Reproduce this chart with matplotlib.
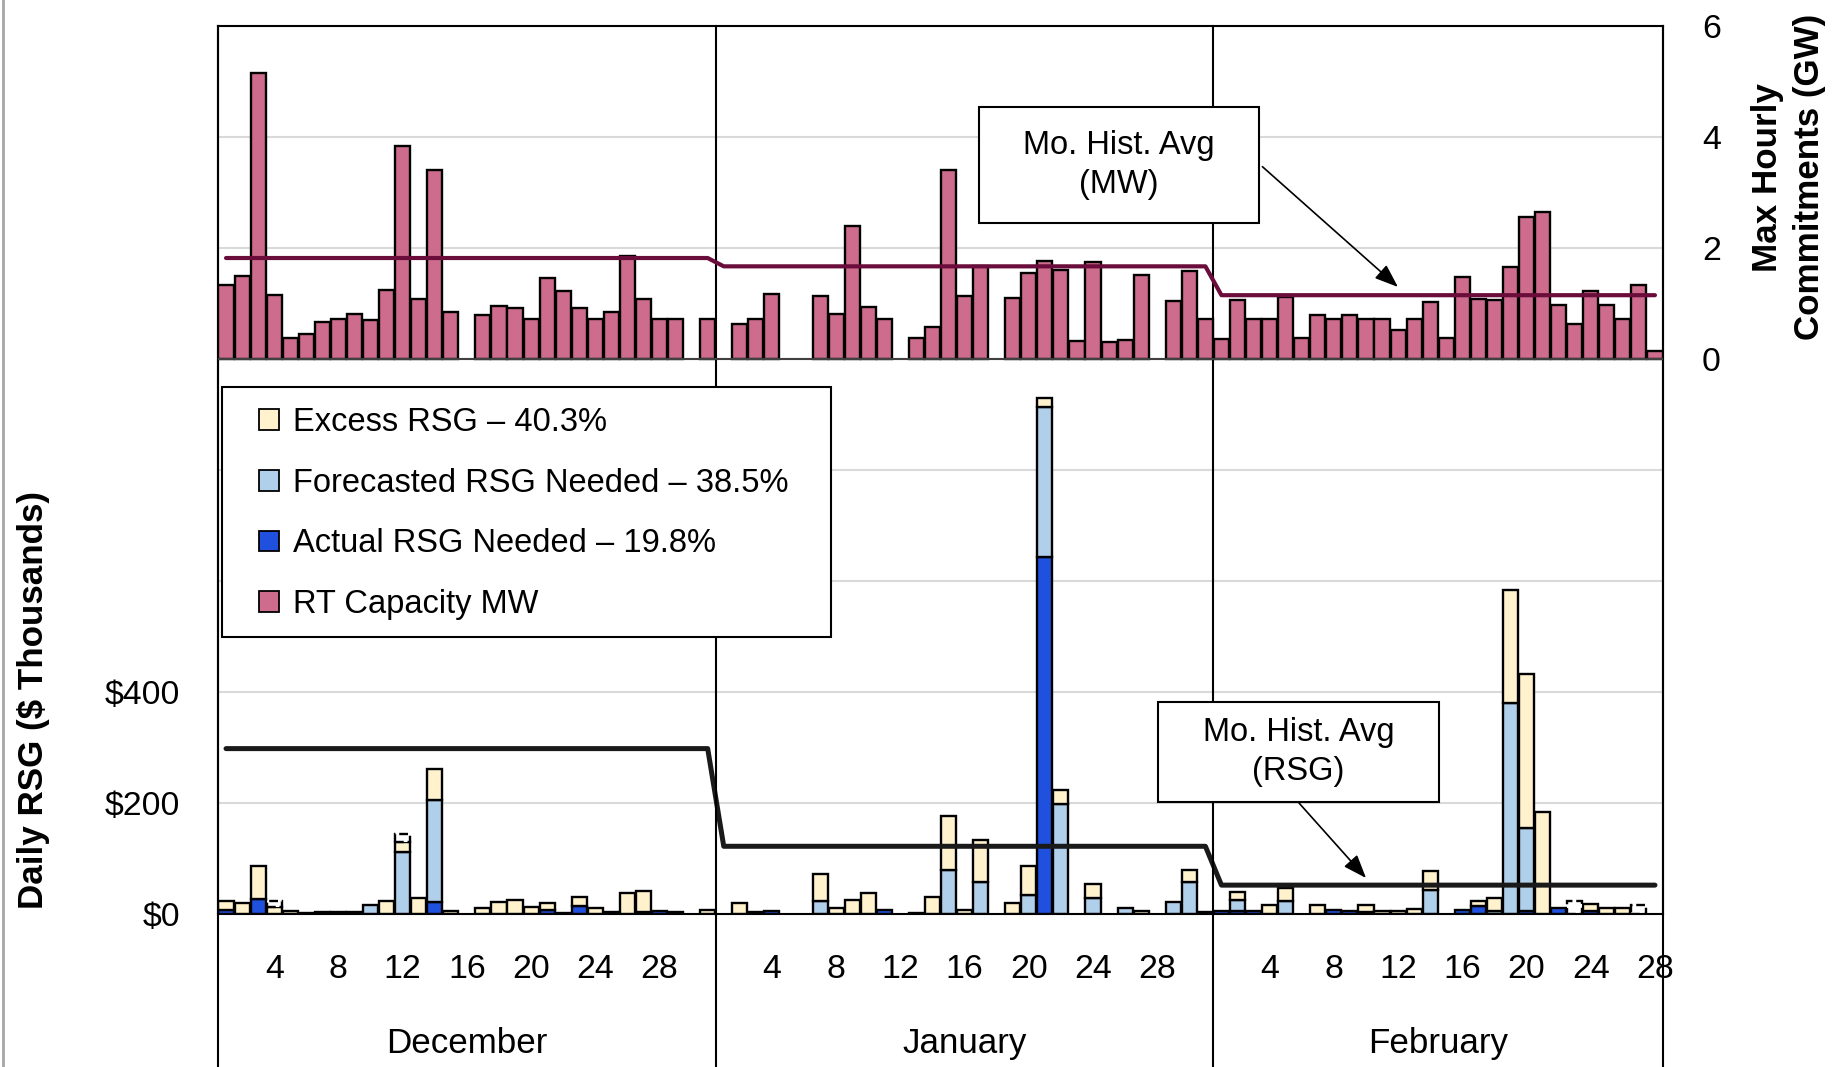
import numpy as np
import matplotlib.pyplot as plt
from matplotlib import font_manager
from matplotlib.lines import Line2D
from matplotlib.patches import Patch, Rectangle

# ---- data (one list per month, day 1 first) ----
MONTHS = ['December', 'January', 'February']

# max hourly RT capacity commitments, GW (None = nothing committed)
rt_capacity_dec = [1.34, 1.49, 5.15, 1.16, 0.37, 0.45, 0.66, 0.72, 0.81, 0.71,
                   1.25, 3.84, 1.09, 3.40, 0.84, None, 0.80, 0.95, 0.92, 0.73,
                   1.46, 1.22, 0.92, 0.73, 0.84, 1.85, 1.08, 0.73, 0.73, None, 0.73]
rt_capacity_jan = [None, 0.63, 0.73, 1.17, None, None, 1.14, 0.81, 2.39, 0.94,
                   0.72, None, 0.37, 0.58, 3.41, 1.14, 1.68, None, 1.10, 1.55,
                   1.76, 1.60, 0.33, 1.75, 0.30, 0.35, 1.52, None, 1.05, 1.58, 0.73]
rt_capacity_feb = [0.36, 1.07, 0.72, 0.72, 1.12, 0.37, 0.80, 0.72, 0.80, 0.73,
                   0.73, 0.52, 0.72, 1.03, 0.37, 1.48, 1.08, 1.07, 1.65, 2.56,
                   2.65, 0.98, 0.63, 1.22, 0.98, 0.73, 1.34, 0.14]

# daily RSG, $ thousands
actual_dec = [7, 0, 27, 0, 0, 2, 3, 3, 4, 0, 0, 0, 0, 21, 0, 0, 0, 0, 0, 0,
              8, 2, 14, 0, 0, 0, 0, 6, 4, 0, 0]
forecast_dec = [0, 0, 0, 0, 0, 0, 0, 0, 0, 17, 0, 111, 0, 184, 0, 0, 0, 0, 0, 0,
                0, 0, 0, 0, 0, 0, 3, 0, 0, 0, 0]
excess_dec = [17, 19, 60, 12, 5, 0, 0, 0, 0, 0, 23, 18, 29, 56, 6, 0, 10, 22, 26, 13,
              12, 0, 16, 10, 4, 38, 38, 0, 0, 0, 8]
other_dec = [0, 0, 0, 11, 0, 0, 0, 0, 0, 0, 0, 15, 0, 0, 0, 0, 0, 0, 0, 0,
             0, 0, 0, 0, 0, 0, 0, 0, 0, 0, 0]

actual_jan = [0, 0, 0, 5, 0, 0, 0, 0, 0, 0, 7, 0, 1, 0, 0, 0, 0, 0, 0, 0,
              644, 0, 0, 0, 0, 0, 0, 0, 0, 0, 3]
forecast_jan = [0, 0, 0, 0, 0, 0, 24, 0, 0, 0, 0, 0, 0, 0, 79, 0, 58, 0, 0, 35,
                269, 199, 0, 28, 0, 10, 0, 0, 22, 57, 0]
excess_jan = [0, 19, 3, 0, 0, 0, 48, 10, 26, 38, 0, 0, 0, 30, 98, 8, 75, 0, 19, 52,
              17, 24, 0, 26, 0, 0, 5, 0, 0, 23, 0]
other_jan = [0] * 31

actual_feb = [5, 6, 5, 0, 0, 0, 0, 8, 6, 3, 0, 0, 0, 0, 0, 8, 14, 0, 0, 6,
              0, 10, 0, 6, 0, 0, 0, 0]
forecast_feb = [0, 20, 0, 0, 23, 0, 0, 0, 0, 0, 0, 0, 0, 44, 0, 0, 0, 6, 381, 149,
                0, 0, 0, 0, 0, 0, 0, 0]
excess_feb = [0, 13, 0, 16, 24, 0, 16, 0, 0, 14, 5, 6, 9, 34, 0, 0, 9, 23, 202, 278,
              183, 0, 0, 12, 11, 11, 0, 0]
other_feb = [0, 0, 0, 0, 0, 0, 0, 0, 0, 0, 0, 0, 0, 0, 0, 0, 0, 0, 0, 0,
             0, 0, 23, 0, 0, 0, 17, 0]

mw_hist_avg = [1.82, 1.67, 1.15]     # GW
rsg_hist_avg = [298, 122, 52]        # $ thousands

legend_labels = ['Excess RSG – 40.3%', 'Forecasted RSG Needed – 38.5%',
                 'Actual RSG Needed – 19.8%', 'RT Capacity MW']
day_ticks = [4, 8, 12, 16, 20, 24, 28]
rsg_tick_labels = ['$0', '$200', '$400']
gw_ticks = [0, 2, 4, 6]

# colours
PINK = '#CE6C8E'
CREAM = '#FFF2CC'
LIGHT_BLUE = '#B0CFEA'
BLUE = '#1F51DE'
MAROON = '#6A0D3A'
GRID = '#D9D9D9'

installed = {f.name for f in font_manager.fontManager.ttflist}
if 'Liberation Sans Narrow' in installed:
    FONT, SHRINK = 'Liberation Sans Narrow', 1.0
else:
    FONT, SHRINK = 'Liberation Sans', 0.84
plt.rcParams['font.family'] = [FONT, 'DejaVu Sans']


def fs(pt):
    return pt * SHRINK


rt_capacity = np.array(rt_capacity_dec + rt_capacity_jan + rt_capacity_feb, dtype=float)
actual = np.array(actual_dec + actual_jan + actual_feb, dtype=float)
forecast = np.array(forecast_dec + forecast_jan + forecast_feb, dtype=float)
excess = np.array(excess_dec + excess_jan + excess_feb, dtype=float)
other = np.array(other_dec + other_jan + other_feb, dtype=float)

n_days = [len(rt_capacity_dec), len(rt_capacity_jan), len(rt_capacity_feb)]
starts = np.concatenate([[0], np.cumsum(n_days)[:-1]])
x = np.arange(len(rt_capacity))

fig = plt.figure(figsize=(18.49, 10.67), dpi=100)
ax = fig.add_axes([0.1179, 0.1434, 0.7815, 0.8322])
ax2 = ax.twinx()

BAR_W = 0.94
EDGE_W = 1.7

# stacked RSG bars
bottom = np.zeros_like(actual)
for vals, color, ls in [(actual, BLUE, '-'), (forecast, LIGHT_BLUE, '-'),
                        (excess, CREAM, '-'), (other, 'white', '--')]:
    m = vals > 0
    ax.bar(x[m], vals[m], bottom=bottom[m], width=BAR_W, color=color,
           edgecolor='black', linewidth=EDGE_W, linestyle=ls, zorder=2)
    bottom += vals

# RT capacity bars
m = ~np.isnan(rt_capacity)
ax2.bar(x[m], rt_capacity[m], width=BAR_W, color=PINK, edgecolor='black',
        linewidth=EDGE_W, zorder=2)
ax2.axhline(0, color='#404040', lw=1.5, zorder=2.5)

# monthly historical averages
xs, mw_line, rsg_line = [], [], []
for s, n, mw, rsg in zip(starts, n_days, mw_hist_avg, rsg_hist_avg):
    xs += [s, s + n - 1]
    mw_line += [mw, mw]
    rsg_line += [rsg, rsg]
ax.plot(xs, rsg_line, color='#1A1A1A', lw=3.6, zorder=3, solid_capstyle='round')
ax2.plot(xs, mw_line, color=MAROON, lw=3.0, zorder=3, solid_capstyle='round')

# axes and scales
ax.set_xlim(-0.5, len(x) - 0.5)
ax.set_ylim(0, 1600)
ax2.set_ylim(-10, 6)
ax.set_yticks(np.arange(0, 1601, 200))
ax.set_yticklabels(rsg_tick_labels + [''] * 6)
ax2.set_yticks(gw_ticks)
ax2.set_yticklabels([str(t) for t in gw_ticks])
ax.yaxis.grid(True, color=GRID, lw=1.5, zorder=0)
ax.set_axisbelow(True)

tick_pos, tick_lab = [], []
for s, n in zip(starts, n_days):
    for d in day_ticks:
        if d <= n:
            tick_pos.append(s + d - 1)
            tick_lab.append(str(d))
ax.set_xticks(tick_pos)
ax.set_xticklabels(tick_lab)
ax.tick_params(axis='x', length=0, pad=29, labelsize=fs(29))
ax.tick_params(axis='y', length=0, pad=27, labelsize=fs(29))
ax2.tick_params(axis='y', length=0, pad=28, labelsize=fs(29))

for sp in ax.spines.values():
    sp.set_color('black')
    sp.set_linewidth(1.5)
for sp in ax2.spines.values():
    sp.set_visible(False)

# month dividers running down through the category labels
xtrans = ax.get_xaxis_transform()
bounds = [-0.5] + [s + n - 0.5 for s, n in zip(starts, n_days)]
for b in bounds:
    ax.plot([b, b], [-0.175, 1], transform=xtrans, color='black', lw=1.5,
            clip_on=False, zorder=4)
for s, n, name in zip(starts, n_days, MONTHS):
    ax.text(s + (n - 1) / 2, -0.146, name, transform=xtrans, ha='center',
            va='center', fontsize=fs(30))

# axis titles
fig.text(0.018, 0.344, 'Daily RSG ($ Thousands)', rotation=90, ha='center',
         va='center', fontsize=fs(30), fontweight='bold')
fig.text(0.9675, 0.834, 'Max Hourly\nCommitments (GW)', rotation=90, ha='center',
         va='center', multialignment='center', fontsize=fs(30),
         fontweight='bold', linespacing=1.34)

# legend with its own square frame
ax.add_patch(Rectangle((0.0028, 0.3119), 0.4215, 0.2815, transform=ax.transAxes,
                       fc='white', ec='black', lw=1.5, zorder=5))
handles = [Patch(facecolor=c, edgecolor='black', linewidth=1.3)
           for c in (CREAM, LIGHT_BLUE, BLUE, PINK)]
leg = ax.legend(handles, legend_labels, loc='upper left',
                bbox_to_anchor=(0.0285, 0.571), frameon=False, borderpad=0,
                borderaxespad=0, fontsize=fs(28), handlelength=0.6,
                handleheight=0.6, handletextpad=0.45, labelspacing=0.91)
leg.set_zorder(6)

# callouts
callouts = [
    ((0.5266, 0.7782, 0.1938, 0.1306), 'Mo. Hist. Avg\n(MW)', (0.7228, 0.8416), (0.8166, 0.7061)),
    ((0.6505, 0.1261, 0.1945, 0.1126), 'Mo. Hist. Avg\n(RSG)', (0.7481, 0.1250), (0.7945, 0.0405)),
]
for (x0, y0, w, h), label, start, tip in callouts:
    ax2.add_patch(Rectangle((x0, y0), w, h, transform=ax2.transAxes, fc='white',
                            ec='black', lw=1.5, zorder=6))
    ax2.text(x0 + w / 2, y0 + h / 2, label, transform=ax2.transAxes, ha='center',
             va='center', fontsize=fs(28), linespacing=1.36, zorder=7)
    ax2.annotate('', xy=tip, xytext=start, xycoords='axes fraction',
                 arrowprops=dict(arrowstyle='-|>,head_length=0.4,head_width=0.15',
                                 color='black', lw=1.2, mutation_scale=36,
                                 shrinkA=0, shrinkB=0), zorder=7)

fig.add_artist(Line2D([0.0016, 0.0016], [0, 1], color='#A6A6A6', lw=2,
                      transform=fig.transFigure))

fig.savefig('out.png', dpi=100)
